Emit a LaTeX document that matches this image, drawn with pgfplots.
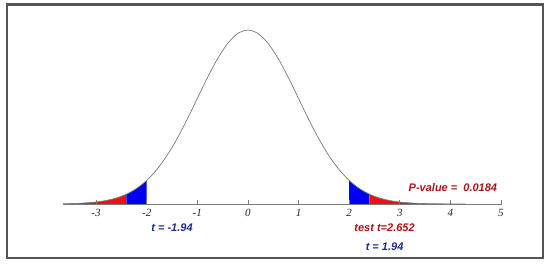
\documentclass[border=0pt]{standalone}
\usepackage{pgfplots}
\pgfplotsset{compat=1.18}
\usepackage{fontspec}
\setmainfont{Liberation Serif}
\setsansfont{Liberation Sans}
\definecolor{curvegray}{HTML}{7A7A7A}
\definecolor{framegray}{HTML}{555555}
\definecolor{tblue}{HTML}{1C2A8C}
\definecolor{tred}{HTML}{A8141A}
\definecolor{fillred}{HTML}{F01010}
\definecolor{fillblue}{HTML}{0000F5}

\begin{document}
\begin{tikzpicture}
\begin{axis}[
  scale only axis,
  width=536pt, height=253.5pt,
  xmin=-4.76, xmax=5.83,
  ymin=-0.124, ymax=0.4576,
  xtick=\empty, ytick=\empty,
  axis line style={draw=framegray, line width=2.2pt},
  clip=false,
]
% tails (red) and region between the critical values and the test statistic (blue)
\addplot[fill=fillred, draw=none] coordinates {
  (-3.65,0.0005) (-3.6,0.0006) (-3.4,0.0012) (-3.2,0.0024) (-3.0,0.0044)
  (-2.9,0.0060) (-2.8,0.0079) (-2.7,0.0104) (-2.6,0.0136) (-2.5,0.0175) (-2.4,0.0224)
} \closedcycle;
\addplot[fill=fillblue, draw=none] coordinates {
  (-2.4,0.0224) (-2.3,0.0283) (-2.2,0.0355) (-2.1,0.0440) (-2.0,0.0540)
} \closedcycle;
\addplot[fill=fillblue, draw=none] coordinates {
  (2.0,0.0540) (2.1,0.0440) (2.2,0.0355) (2.3,0.0283) (2.4,0.0224)
} \closedcycle;
\addplot[fill=fillred, draw=none] coordinates {
  (2.4,0.0224) (2.5,0.0175) (2.6,0.0136) (2.7,0.0104) (2.8,0.0079) (2.9,0.0060)
  (3.0,0.0044) (3.2,0.0024) (3.4,0.0012) (3.6,0.0006) (3.8,0.0003) (4.0,0.0001)
} \closedcycle;
% density curve
\addplot[curvegray, line width=0.7pt, smooth] coordinates {
  (-3.65,0.0005) (-3.4,0.0012) (-3.2,0.0024) (-3.0,0.0044) (-2.8,0.0079)
  (-2.6,0.0136) (-2.4,0.0224) (-2.2,0.0355) (-2.0,0.0540) (-1.8,0.0790)
  (-1.6,0.1109) (-1.4,0.1497) (-1.2,0.1942) (-1.0,0.2420) (-0.8,0.2897)
  (-0.6,0.3332) (-0.4,0.3683) (-0.2,0.3910) (0,0.3989) (0.2,0.3910)
  (0.4,0.3683) (0.6,0.3332) (0.8,0.2897) (1.0,0.2420) (1.2,0.1942)
  (1.4,0.1497) (1.6,0.1109) (1.8,0.0790) (2.0,0.0540) (2.2,0.0355)
  (2.4,0.0224) (2.6,0.0136) (2.8,0.0079) (3.0,0.0044) (3.2,0.0024)
  (3.4,0.0012) (3.6,0.0006) (3.8,0.0003) (4.0,0.0001) (4.3,0.00004)
};
% number line
\draw[curvegray, line width=0.6pt] (axis cs:-3.65,0) -- (axis cs:5,0);
\pgfplotsinvokeforeach{-3,-2,-1,0,1,2,3,4,5}{
  \draw[curvegray, line width=0.6pt] (axis cs:#1,0) ++(0pt,-1.5pt) -- ++(0pt,5pt);
  \node[font=\fontsize{11}{13}\selectfont\itshape, color=black!85, anchor=north]
    at (axis cs:#1,-0.004) {#1};
}
\node[font=\fontsize{11}{13}\selectfont\sffamily\bfseries\itshape, color=tblue]
  at (axis cs:-1.5,-0.055) {t = -1.94};
\node[font=\fontsize{11}{13}\selectfont\sffamily\bfseries\itshape, color=tred]
  at (axis cs:4.05,0.037) {P-value =\ \ 0.0184};
\node[font=\fontsize{11}{13}\selectfont\sffamily\bfseries\itshape, color=tred]
  at (axis cs:2.70,-0.055) {test t=2.652};
\node[font=\fontsize{11}{13}\selectfont\sffamily\bfseries\itshape, color=tblue]
  at (axis cs:2.70,-0.099) {t = 1.94};
\end{axis}
\path ([shift={(-7pt,-6pt)}]current axis.south west) rectangle ([shift={(7pt,4.5pt)}]current axis.north east);
\end{tikzpicture}
\end{document}
